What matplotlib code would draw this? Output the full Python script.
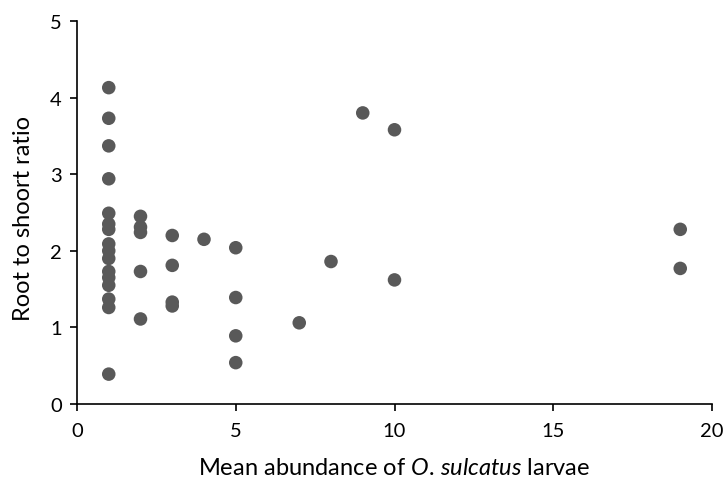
import matplotlib
matplotlib.use("Agg")
import matplotlib.pyplot as plt

plt.rcParams['font.family'] = ['Lato', 'DejaVu Sans']
plt.rcParams['mathtext.fontset'] = 'custom'
plt.rcParams['mathtext.rm'] = 'Lato'
plt.rcParams['mathtext.it'] = 'Lato:italic'

# Larval abundance (x) and root-to-shoot ratio (y) for each plant
abundance = [1]*16 + [2]*5 + [3]*4 + [4] + [5]*4 + [7, 8, 9, 10, 10, 19, 19]
ratio = [4.13, 3.73, 3.37, 2.94, 2.49, 2.35, 2.28, 2.09, 2.00, 1.90,
         1.73, 1.65, 1.55, 1.37, 1.26, 0.39,
         2.45, 2.31, 2.24, 1.73, 1.11,
         2.20, 1.81, 1.33, 1.28,
         2.15,
         2.04, 1.39, 0.89, 0.54,
         1.06, 1.86, 3.80, 3.58, 1.62, 2.28, 1.77]

x_ticks = [0, 5, 10, 15, 20]
y_ticks = [0, 1, 2, 3, 4, 5]

fig = plt.figure(figsize=(7.25, 4.89), dpi=100)
ax = fig.add_axes([77/725, 1 - 405/489, (712-77)/725, (405-22)/489])

ax.scatter(abundance, ratio, s=95, color='#595959', edgecolors='none', zorder=3, clip_on=False)

ax.set_xlim(0, 20)
ax.set_ylim(0, 5)
ax.set_xticks(x_ticks)
ax.set_yticks(y_ticks)
for s in ['top', 'right']:
    ax.spines[s].set_visible(False)
for s in ['left', 'bottom']:
    ax.spines[s].set_color('black')
    ax.spines[s].set_linewidth(1.2)
ax.tick_params(axis='both', direction='out', length=5, width=1.2, colors='black',
               labelsize=14.5, pad=6)
ax.tick_params(axis='x', pad=8)

ax.set_ylabel('Root to shoort ratio', fontsize=17)
ax.yaxis.set_label_coords(-0.068, 0.488)
ax.set_xlabel('Mean abundance of $\\mathit{O.\\,sulcatus}$ larvae',
              fontsize=17, labelpad=13)

fig.savefig('out.png', dpi=100)
